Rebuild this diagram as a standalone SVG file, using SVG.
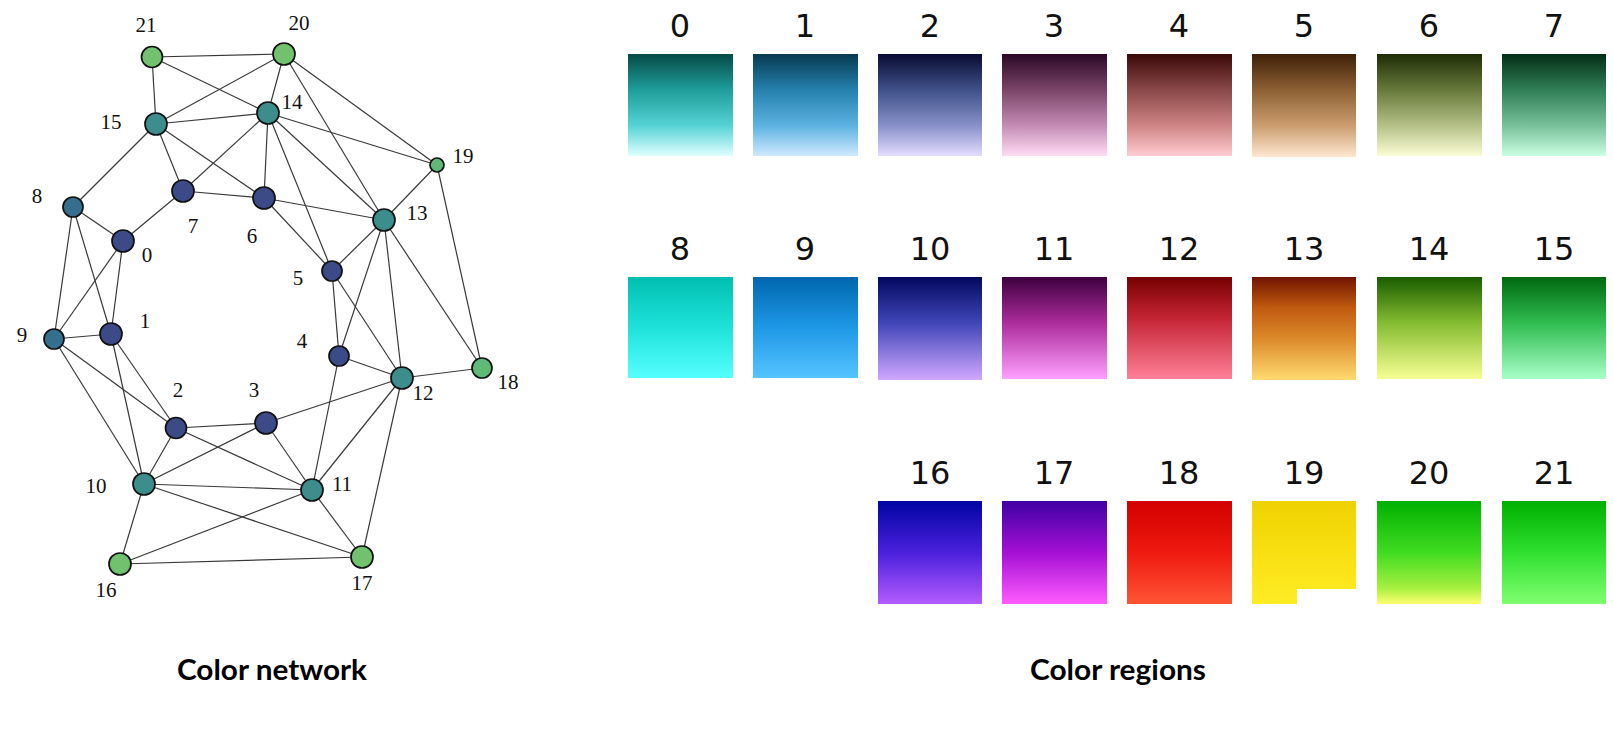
<svg xmlns="http://www.w3.org/2000/svg" width="1613" height="747" viewBox="0 0 1613 747">
<style>
.e{stroke:#3a3a3a;stroke-width:1.2;fill:none}
.n{stroke:#111;stroke-width:1.7}
.g{fill:#71c16f}.g2{fill:#5fba78}.t{fill:#3c8d8b}.b{fill:#3c4b88}.bt{fill:#356f8d}
.lb{font-family:"Liberation Serif","DejaVu Serif",serif;font-size:21px;fill:#111;text-anchor:middle}
.cl{font-family:"DejaVu Sans",sans-serif;font-size:32px;fill:#111;text-anchor:middle}
.ti{font-family:Lato,"Open Sans",sans-serif;font-weight:bold;font-size:28px;fill:#000;text-anchor:middle}
</style>
<defs>
<linearGradient id="c0" x1="0" y1="0" x2="0" y2="1"><stop offset="0" stop-color="#064a46"/><stop offset="0.35" stop-color="#1e9d9a"/><stop offset="0.7" stop-color="#55d2d4"/><stop offset="1" stop-color="#e0ffff"/></linearGradient>
<linearGradient id="c1" x1="0" y1="0" x2="0" y2="1"><stop offset="0" stop-color="#073a50"/><stop offset="0.35" stop-color="#2580ad"/><stop offset="0.7" stop-color="#5cb2e0"/><stop offset="1" stop-color="#cfe9ff"/></linearGradient>
<linearGradient id="c2" x1="0" y1="0" x2="0" y2="1"><stop offset="0" stop-color="#080b32"/><stop offset="0.35" stop-color="#3f5088"/><stop offset="0.7" stop-color="#8790c8"/><stop offset="1" stop-color="#e4dcff"/></linearGradient>
<linearGradient id="c3" x1="0" y1="0" x2="0" y2="1"><stop offset="0" stop-color="#2a0826"/><stop offset="0.35" stop-color="#7a4468"/><stop offset="0.7" stop-color="#c48cb4"/><stop offset="1" stop-color="#ffdcf4"/></linearGradient>
<linearGradient id="c4" x1="0" y1="0" x2="0" y2="1"><stop offset="0" stop-color="#3a0808"/><stop offset="0.35" stop-color="#8a4848"/><stop offset="0.7" stop-color="#cf8484"/><stop offset="1" stop-color="#ffccd2"/></linearGradient>
<linearGradient id="c5" x1="0" y1="0" x2="0" y2="1"><stop offset="0" stop-color="#3e2008"/><stop offset="0.35" stop-color="#8d6034"/><stop offset="0.7" stop-color="#cc9e70"/><stop offset="1" stop-color="#ffe8d0"/></linearGradient>
<linearGradient id="c6" x1="0" y1="0" x2="0" y2="1"><stop offset="0" stop-color="#1e2c06"/><stop offset="0.35" stop-color="#67793a"/><stop offset="0.7" stop-color="#b4c088"/><stop offset="1" stop-color="#fbfdd4"/></linearGradient>
<linearGradient id="c7" x1="0" y1="0" x2="0" y2="1"><stop offset="0" stop-color="#042e16"/><stop offset="0.35" stop-color="#2f7e56"/><stop offset="0.7" stop-color="#78c09a"/><stop offset="1" stop-color="#cbffe2"/></linearGradient>
<linearGradient id="c8" x1="0" y1="0" x2="0" y2="1"><stop offset="0" stop-color="#00bfb0"/><stop offset="0.5" stop-color="#1ee2da"/><stop offset="1" stop-color="#55ffff"/></linearGradient>
<linearGradient id="c9" x1="0" y1="0" x2="0" y2="1"><stop offset="0" stop-color="#0066ae"/><stop offset="0.5" stop-color="#1e98e6"/><stop offset="1" stop-color="#55c4ff"/></linearGradient>
<linearGradient id="c10" x1="0" y1="0" x2="0" y2="1"><stop offset="0" stop-color="#02085e"/><stop offset="0.45" stop-color="#4046b8"/><stop offset="1" stop-color="#d0a8ff"/></linearGradient>
<linearGradient id="c11" x1="0" y1="0" x2="0" y2="1"><stop offset="0" stop-color="#3e0040"/><stop offset="0.45" stop-color="#ac2c9c"/><stop offset="1" stop-color="#ffa0ff"/></linearGradient>
<linearGradient id="c12" x1="0" y1="0" x2="0" y2="1"><stop offset="0" stop-color="#760000"/><stop offset="0.4" stop-color="#c42434"/><stop offset="1" stop-color="#ff8098"/></linearGradient>
<linearGradient id="c13" x1="0" y1="0" x2="0" y2="1"><stop offset="0" stop-color="#701400"/><stop offset="0.3" stop-color="#c05a10"/><stop offset="0.6" stop-color="#dc8a2a"/><stop offset="1" stop-color="#ffda70"/></linearGradient>
<linearGradient id="c14" x1="0" y1="0" x2="0" y2="1"><stop offset="0" stop-color="#1a5c00"/><stop offset="0.45" stop-color="#84bc30"/><stop offset="1" stop-color="#f8ff94"/></linearGradient>
<linearGradient id="c15" x1="0" y1="0" x2="0" y2="1"><stop offset="0" stop-color="#006810"/><stop offset="0.45" stop-color="#30bc50"/><stop offset="1" stop-color="#a8ffc8"/></linearGradient>
<linearGradient id="c16" x1="0" y1="0" x2="0" y2="1"><stop offset="0" stop-color="#0004a2"/><stop offset="0.5" stop-color="#4a20dc"/><stop offset="1" stop-color="#b45cff"/></linearGradient>
<linearGradient id="c17" x1="0" y1="0" x2="0" y2="1"><stop offset="0" stop-color="#4000a4"/><stop offset="0.5" stop-color="#a410d4"/><stop offset="1" stop-color="#ff5cff"/></linearGradient>
<linearGradient id="c18" x1="0" y1="0" x2="0" y2="1"><stop offset="0" stop-color="#d20000"/><stop offset="0.5" stop-color="#ee1a10"/><stop offset="1" stop-color="#ff5434"/></linearGradient>
<linearGradient id="c19" x1="0" y1="0" x2="0" y2="1"><stop offset="0" stop-color="#efd200"/><stop offset="1" stop-color="#ffec24"/></linearGradient>
<linearGradient id="c20" x1="0" y1="0" x2="0" y2="1"><stop offset="0" stop-color="#00b000"/><stop offset="0.5" stop-color="#40dc20"/><stop offset="0.85" stop-color="#a8f040"/><stop offset="1" stop-color="#ffff70"/></linearGradient>
<linearGradient id="c21" x1="0" y1="0" x2="0" y2="1"><stop offset="0" stop-color="#00b000"/><stop offset="0.5" stop-color="#30e030"/><stop offset="1" stop-color="#80ff70"/></linearGradient>
</defs>
<rect width="1613" height="747" fill="#fff"/>
<g id="connectors">
<line class="e" x1="152" y1="57" x2="284" y2="54"/>
<line class="e" x1="152" y1="57" x2="156" y2="124"/>
<line class="e" x1="152" y1="57" x2="268" y2="113"/>
<line class="e" x1="284" y1="54" x2="156" y2="124"/>
<line class="e" x1="284" y1="54" x2="268" y2="113"/>
<line class="e" x1="284" y1="54" x2="384" y2="220"/>
<line class="e" x1="284" y1="54" x2="437" y2="165"/>
<line class="e" x1="156" y1="124" x2="268" y2="113"/>
<line class="e" x1="156" y1="124" x2="73" y2="207"/>
<line class="e" x1="156" y1="124" x2="183" y2="191"/>
<line class="e" x1="156" y1="124" x2="264" y2="198"/>
<line class="e" x1="268" y1="113" x2="183" y2="191"/>
<line class="e" x1="268" y1="113" x2="264" y2="198"/>
<line class="e" x1="268" y1="113" x2="332" y2="271"/>
<line class="e" x1="268" y1="113" x2="384" y2="220"/>
<line class="e" x1="268" y1="113" x2="437" y2="165"/>
<line class="e" x1="437" y1="165" x2="384" y2="220"/>
<line class="e" x1="437" y1="165" x2="482" y2="368"/>
<line class="e" x1="183" y1="191" x2="264" y2="198"/>
<line class="e" x1="183" y1="191" x2="123" y2="241"/>
<line class="e" x1="264" y1="198" x2="384" y2="220"/>
<line class="e" x1="264" y1="198" x2="332" y2="271"/>
<line class="e" x1="384" y1="220" x2="332" y2="271"/>
<line class="e" x1="384" y1="220" x2="339" y2="356"/>
<line class="e" x1="384" y1="220" x2="402" y2="378"/>
<line class="e" x1="384" y1="220" x2="482" y2="368"/>
<line class="e" x1="332" y1="271" x2="402" y2="378"/>
<line class="e" x1="332" y1="271" x2="339" y2="356"/>
<line class="e" x1="73" y1="207" x2="54" y2="339"/>
<line class="e" x1="73" y1="207" x2="111" y2="334"/>
<line class="e" x1="73" y1="207" x2="123" y2="241"/>
<line class="e" x1="123" y1="241" x2="54" y2="339"/>
<line class="e" x1="123" y1="241" x2="111" y2="334"/>
<line class="e" x1="54" y1="339" x2="111" y2="334"/>
<line class="e" x1="54" y1="339" x2="176" y2="428"/>
<line class="e" x1="54" y1="339" x2="144" y2="484"/>
<line class="e" x1="111" y1="334" x2="144" y2="484"/>
<line class="e" x1="111" y1="334" x2="176" y2="428"/>
<line class="e" x1="176" y1="428" x2="266" y2="423"/>
<line class="e" x1="176" y1="428" x2="144" y2="484"/>
<line class="e" x1="176" y1="428" x2="312" y2="490"/>
<line class="e" x1="266" y1="423" x2="144" y2="484"/>
<line class="e" x1="266" y1="423" x2="312" y2="490"/>
<line class="e" x1="266" y1="423" x2="402" y2="378"/>
<line class="e" x1="339" y1="356" x2="402" y2="378"/>
<line class="e" x1="339" y1="356" x2="312" y2="490"/>
<line class="e" x1="402" y1="378" x2="482" y2="368"/>
<line class="e" x1="402" y1="378" x2="312" y2="490"/>
<line class="e" x1="402" y1="378" x2="362" y2="557"/>
<line class="e" x1="144" y1="484" x2="312" y2="490"/>
<line class="e" x1="144" y1="484" x2="120" y2="564"/>
<line class="e" x1="144" y1="484" x2="362" y2="557"/>
<line class="e" x1="312" y1="490" x2="120" y2="564"/>
<line class="e" x1="312" y1="490" x2="362" y2="557"/>
<line class="e" x1="120" y1="564" x2="362" y2="557"/>
</g>
<g id="node-0"><circle class="n b" cx="123" cy="241" r="11"/><text class="lb" x="147" y="262">0</text></g>
<g id="node-1"><circle class="n b" cx="111" cy="334" r="11"/><text class="lb" x="145" y="328">1</text></g>
<g id="node-2"><circle class="n b" cx="176" cy="428" r="10.5"/><text class="lb" x="178" y="397">2</text></g>
<g id="node-3"><circle class="n b" cx="266" cy="423" r="11"/><text class="lb" x="254" y="397">3</text></g>
<g id="node-4"><circle class="n b" cx="339" cy="356" r="10"/><text class="lb" x="302" y="348">4</text></g>
<g id="node-5"><circle class="n b" cx="332" cy="271" r="10"/><text class="lb" x="298" y="285">5</text></g>
<g id="node-6"><circle class="n b" cx="264" cy="198" r="11"/><text class="lb" x="252" y="243">6</text></g>
<g id="node-7"><circle class="n b" cx="183" cy="191" r="11"/><text class="lb" x="193" y="233">7</text></g>
<g id="node-8"><circle class="n bt" cx="73" cy="207" r="10"/><text class="lb" x="37" y="203">8</text></g>
<g id="node-9"><circle class="n bt" cx="54" cy="339" r="10"/><text class="lb" x="22" y="342">9</text></g>
<g id="node-10"><circle class="n t" cx="144" cy="484" r="11"/><text class="lb" x="96" y="493">10</text></g>
<g id="node-11"><circle class="n t" cx="312" cy="490" r="11"/><text class="lb" x="342" y="491">11</text></g>
<g id="node-12"><circle class="n t" cx="402" cy="378" r="11"/><text class="lb" x="423" y="400">12</text></g>
<g id="node-13"><circle class="n t" cx="384" cy="220" r="11"/><text class="lb" x="417" y="220">13</text></g>
<g id="node-14"><circle class="n t" cx="268" cy="113" r="11"/><text class="lb" x="292" y="109">14</text></g>
<g id="node-15"><circle class="n t" cx="156" cy="124" r="11"/><text class="lb" x="111" y="129">15</text></g>
<g id="node-16"><circle class="n g" cx="120" cy="564" r="11"/><text class="lb" x="106" y="597">16</text></g>
<g id="node-17"><circle class="n g" cx="362" cy="557" r="11"/><text class="lb" x="362" y="590">17</text></g>
<g id="node-18"><circle class="n g2" cx="482" cy="368" r="10"/><text class="lb" x="508" y="389">18</text></g>
<g id="node-19"><circle class="n g2" cx="437" cy="165" r="7"/><text class="lb" x="463" y="163">19</text></g>
<g id="node-20"><circle class="n g" cx="284" cy="54" r="11"/><text class="lb" x="299" y="30">20</text></g>
<g id="node-21"><circle class="n g" cx="152" cy="57" r="10.5"/><text class="lb" x="146" y="32">21</text></g>
<g id="regions">
<g id="region-0"><rect x="628" y="54" width="105" height="102" fill="url(#c0)"/><text class="cl" x="680" y="37">0</text></g>
<g id="region-1"><rect x="753" y="54" width="105" height="102" fill="url(#c1)"/><text class="cl" x="805" y="37">1</text></g>
<g id="region-2"><rect x="878" y="54" width="104" height="102" fill="url(#c2)"/><text class="cl" x="930" y="37">2</text></g>
<g id="region-3"><rect x="1002" y="54" width="105" height="102" fill="url(#c3)"/><text class="cl" x="1054" y="37">3</text></g>
<g id="region-4"><rect x="1127" y="54" width="105" height="102" fill="url(#c4)"/><text class="cl" x="1179" y="37">4</text></g>
<g id="region-5"><rect x="1252" y="54" width="104" height="103" fill="url(#c5)"/><text class="cl" x="1304" y="37">5</text></g>
<g id="region-6"><rect x="1377" y="54" width="105" height="102" fill="url(#c6)"/><text class="cl" x="1429" y="37">6</text></g>
<g id="region-7"><rect x="1502" y="54" width="104" height="102" fill="url(#c7)"/><text class="cl" x="1554" y="37">7</text></g>
<g id="region-8"><rect x="628" y="277" width="105" height="101" fill="url(#c8)"/><text class="cl" x="680" y="260">8</text></g>
<g id="region-9"><rect x="753" y="277" width="105" height="101" fill="url(#c9)"/><text class="cl" x="805" y="260">9</text></g>
<g id="region-10"><rect x="878" y="277" width="104" height="103" fill="url(#c10)"/><text class="cl" x="930" y="260">10</text></g>
<g id="region-11"><rect x="1002" y="277" width="105" height="102" fill="url(#c11)"/><text class="cl" x="1054" y="260">11</text></g>
<g id="region-12"><rect x="1127" y="277" width="105" height="102" fill="url(#c12)"/><text class="cl" x="1179" y="260">12</text></g>
<g id="region-13"><rect x="1252" y="277" width="104" height="103" fill="url(#c13)"/><text class="cl" x="1304" y="260">13</text></g>
<g id="region-14"><rect x="1377" y="277" width="105" height="102" fill="url(#c14)"/><text class="cl" x="1429" y="260">14</text></g>
<g id="region-15"><rect x="1502" y="277" width="104" height="102" fill="url(#c15)"/><text class="cl" x="1554" y="260">15</text></g>
<g id="region-16"><rect x="878" y="501" width="104" height="103" fill="url(#c16)"/><text class="cl" x="930" y="484">16</text></g>
<g id="region-17"><rect x="1002" y="501" width="105" height="103" fill="url(#c17)"/><text class="cl" x="1054" y="484">17</text></g>
<g id="region-18"><rect x="1127" y="501" width="105" height="103" fill="url(#c18)"/><text class="cl" x="1179" y="484">18</text></g>
<g id="region-19"><path d="M1252 501H1356V589H1297V604H1252Z" fill="url(#c19)"/><text class="cl" x="1304" y="484">19</text></g>
<g id="region-20"><rect x="1377" y="501" width="104" height="103" fill="url(#c20)"/><text class="cl" x="1429" y="484">20</text></g>
<g id="region-21"><rect x="1502" y="501" width="104" height="103" fill="url(#c21)"/><text class="cl" x="1554" y="484">21</text></g>
</g>
<text class="ti" x="272" y="680" textLength="190" lengthAdjust="spacingAndGlyphs">Color network</text>
<text class="ti" x="1118" y="680" textLength="176" lengthAdjust="spacingAndGlyphs">Color regions</text>
</svg>
